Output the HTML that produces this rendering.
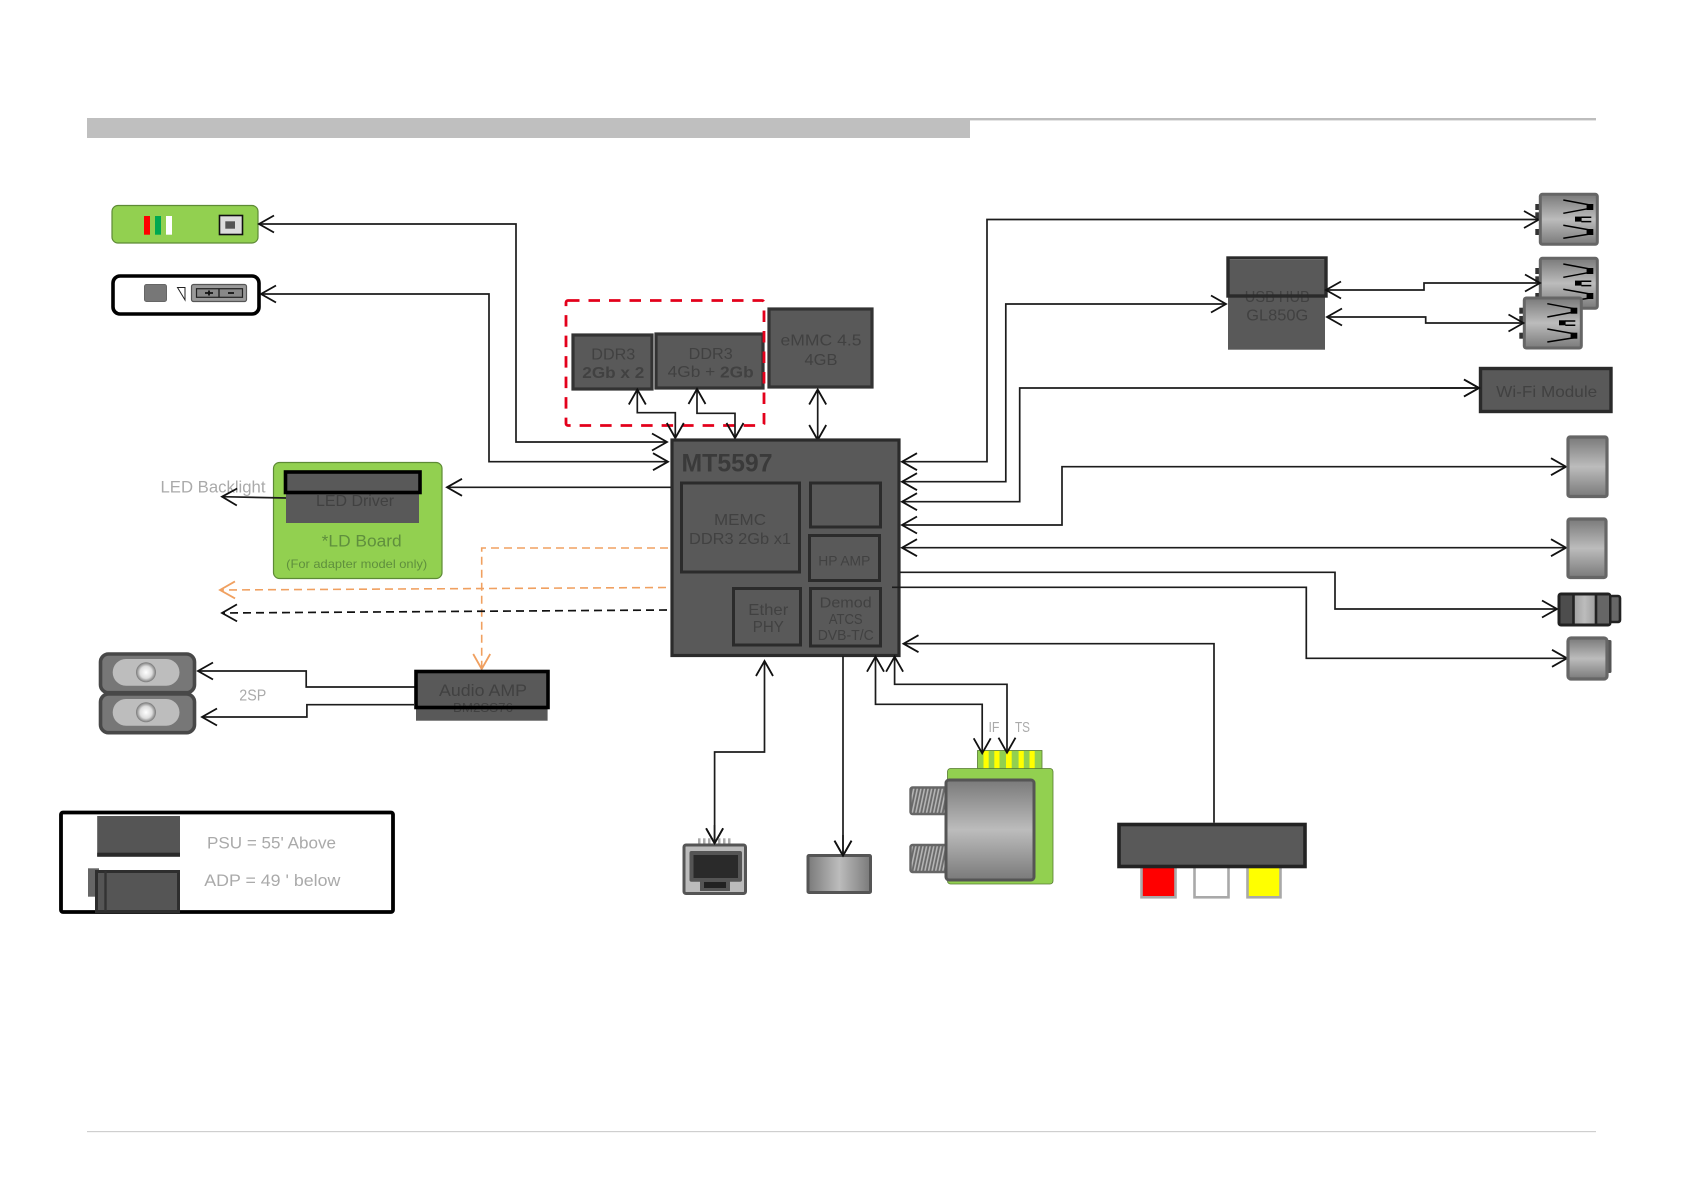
<!DOCTYPE html>
<html><head><meta charset="utf-8">
<style>
html,body{margin:0;padding:0;background:#fff}
svg{display:block}
text{font-family:"Liberation Sans",sans-serif;text-anchor:middle;dominant-baseline:central;transform:translateY(1px)}
.d{fill:#414141}
.g{fill:#aaa}
.l{fill:none;stroke:#1c1c1c;stroke-width:1.7}
</style></head><body>
<svg width="1683" height="1191" viewBox="0 0 1683 1191" xmlns="http://www.w3.org/2000/svg">
<defs>
<marker id="a" markerUnits="userSpaceOnUse" markerWidth="22" markerHeight="22" viewBox="-17 -11 22 22" refX="0" refY="0" orient="auto-start-reverse"><path d="M-15,-8.5 L0,0 L-15,8.5" fill="none" stroke="#111" stroke-width="1.8"/></marker>
<marker id="o" markerUnits="userSpaceOnUse" markerWidth="22" markerHeight="22" viewBox="-17 -11 22 22" refX="0" refY="0" orient="auto"><path d="M-15,-8.5 L0,0 L-15,8.5" fill="none" stroke="#f0a060" stroke-width="1.8"/></marker>
<linearGradient id="v" x1="0" y1="0" x2="0" y2="1"><stop offset="0" stop-color="#7a7a7a"/><stop offset=".5" stop-color="#bcbcbc"/><stop offset="1" stop-color="#7a7a7a"/></linearGradient>
<linearGradient id="h" x1="0" y1="0" x2="1" y2="0"><stop offset="0" stop-color="#7a7a7a"/><stop offset=".5" stop-color="#bcbcbc"/><stop offset="1" stop-color="#7a7a7a"/></linearGradient>
<radialGradient id="r"><stop offset="0" stop-color="#fff"/><stop offset=".6" stop-color="#ddd"/><stop offset="1" stop-color="#777"/></radialGradient>
<pattern id="hatch" width="3.5" height="6" patternUnits="userSpaceOnUse" patternTransform="rotate(12)"><rect width="3.5" height="6" fill="#6a6a6a"/><rect width="1.6" height="6" fill="#b5b5b5"/></pattern>
<g id="usb">
<rect x="-5" y="9.7" width="6" height="6" fill="#333"/><rect x="-5" y="18" width="6" height="6" fill="#333"/><rect x="-5" y="34.7" width="6" height="6" fill="#333"/>
<rect x="0" y="0" width="57" height="50" rx="2" fill="url(#v)" stroke="#666" stroke-width="3"/>
<g stroke="#000" stroke-width="1.5" fill="none"><path d="M23,5.7 L49.7,10.7M23,19 L49.7,14M23,31 L49.7,35.7M23,44 L49.7,39.7M41,23H51M41,27.3H51"/></g>
<rect x="46.3" y="9.7" width="6.7" height="6" fill="#000"/><rect x="34.7" y="22.3" width="6.6" height="5" fill="#000"/><rect x="46.3" y="34.7" width="6.7" height="6" fill="#000"/>
</g>
</defs>
<rect width="1683" height="1191" fill="#fff"/>
<!-- header/footer -->
<rect x="87" y="118" width="883" height="20" fill="#bfbfbf"/>
<rect x="970" y="118" width="626" height="2.4" fill="#bdbdbd"/>
<rect x="87" y="1131" width="1509" height="1.2" fill="#cfcfcf"/>

<!-- LED panel -->
<rect x="112" y="205.5" width="146" height="37.5" rx="6" fill="#92d050" stroke="#5d8a35" stroke-width="1.2"/>
<rect x="144" y="216" width="6" height="18.7" fill="#f00"/><rect x="155" y="216" width="6" height="18.7" fill="#00a850"/><rect x="166" y="216" width="6" height="18.7" fill="#fff"/>
<rect x="219.5" y="215.5" width="23" height="19" fill="#ddd" stroke="#111" stroke-width="1.6"/><rect x="225.3" y="221.3" width="9.7" height="7.4" fill="#555"/>
<!-- key panel -->
<rect x="113" y="276" width="146" height="38" rx="7" fill="#fff" stroke="#000" stroke-width="3.6"/>
<rect x="144.5" y="284.5" width="22" height="17" rx="2" fill="#777" stroke="#666"/>
<path d="M177.5,287.5H185V300Z" fill="#fff" stroke="#222" stroke-width="1"/>
<rect x="191.5" y="284.5" width="55" height="17" rx="2" fill="#9a9a9a" stroke="#555" stroke-width="1.2"/>
<rect x="196.5" y="288.7" width="46" height="8.6" fill="#888" stroke="#222" stroke-width="1.2"/>
<path d="M219,288.7V297.3" stroke="#222" stroke-width="1.4"/>
<path d="M205,293H213M209,290.5V295.5M228,293H234" stroke="#111" stroke-width="1.8"/>

<!-- Left connectors -->
<path class="l" d="M667,442H516V224H259" marker-start="url(#a)" marker-end="url(#a)"/>
<path class="l" d="M668,461.7H489V294H261" marker-start="url(#a)" marker-end="url(#a)"/>
<path class="l" d="M671,487.3H447" marker-end="url(#a)"/>

<!-- LD board -->
<rect x="273.5" y="462.5" width="168.5" height="116" rx="6" fill="#92d050" stroke="#5d8a35" stroke-width="1.2"/>
<rect x="286" y="473" width="133" height="50" fill="#595959"/>
<rect x="285.5" y="472" width="134.5" height="20.5" fill="#595959" stroke="#000" stroke-width="3.6"/>
<text class="d" x="355" y="500.7" font-size="16" textLength="78" lengthAdjust="spacingAndGlyphs">LED Driver</text>
<text x="361.7" y="540" font-size="17" fill="#5f8f3d" textLength="80" lengthAdjust="spacingAndGlyphs">*LD Board</text>
<text x="356.7" y="563" font-size="12" fill="#5f8f3d" textLength="141" lengthAdjust="spacingAndGlyphs">(For adapter model only)</text>
<text class="g" x="213" y="486" font-size="17" textLength="105" lengthAdjust="spacingAndGlyphs">LED Backlight</text>
<path class="l" d="M286,498L222,496.7" marker-end="url(#a)"/>

<!-- dashed -->
<path d="M668,548H481.7V669" fill="none" stroke="#f0a060" stroke-width="1.6" stroke-dasharray="8 5" marker-end="url(#o)"/>
<path d="M666,587.5L220,590" fill="none" stroke="#f0a060" stroke-width="1.6" stroke-dasharray="8 5" marker-end="url(#o)"/>
<path d="M667,610L222,613" fill="none" stroke="#111" stroke-width="1.7" stroke-dasharray="8 5" marker-end="url(#a)"/>

<!-- Speakers -->
<g>
<rect x="100.5" y="654" width="94" height="38.7" rx="8" fill="#777" stroke="#484848" stroke-width="3.6"/>
<rect x="112.7" y="659" width="66.8" height="26.7" rx="13.3" fill="#bdbdbd"/>
<circle cx="146" cy="672.3" r="10" fill="url(#r)"/>
<rect x="100.5" y="694" width="94" height="38.7" rx="8" fill="#777" stroke="#484848" stroke-width="3.6"/>
<rect x="112.7" y="699" width="66.8" height="26.7" rx="13.3" fill="#bdbdbd"/>
<circle cx="146" cy="712.3" r="10" fill="url(#r)"/>
</g>
<path class="l" d="M415,687H306.2V671H198" marker-end="url(#a)"/>
<path class="l" d="M414,704.7H306.9V717H202" marker-end="url(#a)"/>
<text class="g" x="252.8" y="695" font-size="16" textLength="27" lengthAdjust="spacingAndGlyphs">2SP</text>
<!-- Audio AMP -->
<rect x="416" y="671" width="131.6" height="49.7" fill="#595959"/>
<text class="d" x="483" y="706.5" font-size="13" textLength="60" lengthAdjust="spacingAndGlyphs">BM2SS76</text>
<rect x="416" y="671.5" width="132" height="36" fill="none" stroke="#000" stroke-width="3.6"/>
<text class="d" x="483" y="689.5" font-size="17" textLength="88" lengthAdjust="spacingAndGlyphs">Audio AMP</text>

<!-- Legend -->
<rect x="61" y="812.5" width="332" height="99.5" rx="2" fill="#fff" stroke="#000" stroke-width="3.8"/>
<rect x="97.2" y="816" width="82.8" height="40.7" fill="#555"/><rect x="97.2" y="852.7" width="82.8" height="4" fill="#2a2a2a"/>
<rect x="88" y="868.3" width="11" height="28.4" fill="#666"/>
<rect x="96.5" y="871.5" width="82" height="40" fill="#555" stroke="#2e2e2e" stroke-width="3"/>
<path d="M105.5,871V911" stroke="#333" stroke-width="2.4"/>
<text class="g" x="271.5" y="842" font-size="17" textLength="129" lengthAdjust="spacingAndGlyphs">PSU = 55' Above</text>
<text class="g" x="272.3" y="879.5" font-size="17" textLength="136" lengthAdjust="spacingAndGlyphs">ADP = 49 ' below</text>

<!-- DDR / eMMC -->
<rect x="573" y="335" width="79" height="54" fill="#595959" stroke="#333" stroke-width="3.2"/>
<text class="d" x="613.3" y="354" font-size="16" textLength="44" lengthAdjust="spacingAndGlyphs">DDR3</text>
<text class="d" x="613.3" y="372.7" font-size="16" font-weight="bold" textLength="62" lengthAdjust="spacingAndGlyphs">2Gb x 2</text>
<rect x="656" y="334" width="107" height="54" fill="#595959" stroke="#333" stroke-width="3.2"/>
<text class="d" x="710.7" y="353.3" font-size="16" textLength="44" lengthAdjust="spacingAndGlyphs">DDR3</text>
<text class="d" x="710.7" y="371.7" font-size="16" textLength="86" lengthAdjust="spacingAndGlyphs">4Gb + <tspan font-weight="bold">2Gb</tspan></text>
<rect x="769" y="309" width="103" height="78" fill="#595959" stroke="#333" stroke-width="3.2"/>
<text class="d" x="821" y="340" font-size="16" textLength="81" lengthAdjust="spacingAndGlyphs">eMMC 4.5</text>
<text class="d" x="821" y="359.3" font-size="16" textLength="33" lengthAdjust="spacingAndGlyphs">4GB</text>
<rect x="566" y="300.5" width="198" height="125" rx="2" fill="none" stroke="#e3001b" stroke-width="2.8" stroke-dasharray="11.5 9"/>
<path class="l" d="M637.3,389.5V412.7H675.3V438" marker-start="url(#a)" marker-end="url(#a)"/>
<path class="l" d="M697,389V413.3H735V438" marker-start="url(#a)" marker-end="url(#a)"/>
<path class="l" d="M817.7,389.5V440" marker-start="url(#a)" marker-end="url(#a)"/>

<!-- Chip -->
<rect x="672" y="440" width="227" height="215.5" fill="#595959" stroke="#2b2b2b" stroke-width="3.2"/>
<text x="727" y="462.5" font-size="25" font-weight="bold" fill="#3a3a3a" textLength="91" lengthAdjust="spacingAndGlyphs">MT5597</text>
<g fill="#595959" stroke="#2b2b2b" stroke-width="3">
<rect x="681.5" y="483" width="118" height="89"/>
<rect x="810.5" y="483" width="70" height="44"/>
<rect x="809.5" y="535.5" width="70" height="45"/>
<rect x="733.5" y="588.5" width="67" height="56.5"/>
<rect x="810.5" y="588.5" width="70" height="57.5"/>
</g>
<text class="d" x="740" y="519.3" font-size="16" textLength="52" lengthAdjust="spacingAndGlyphs">MEMC</text>
<text class="d" x="740" y="538.3" font-size="16" textLength="102" lengthAdjust="spacingAndGlyphs">DDR3 2Gb x1</text>
<text class="d" x="844.3" y="559.3" font-size="14" textLength="52" lengthAdjust="spacingAndGlyphs">HP AMP</text>
<text class="d" x="768.3" y="609.3" font-size="16" textLength="40" lengthAdjust="spacingAndGlyphs">Ether</text>
<text class="d" x="768.3" y="626.7" font-size="16" textLength="31" lengthAdjust="spacingAndGlyphs">PHY</text>
<text class="d" x="845.7" y="602.7" font-size="14.5" textLength="52" lengthAdjust="spacingAndGlyphs">Demod</text>
<text class="d" x="845.7" y="619" font-size="14.5" textLength="34" lengthAdjust="spacingAndGlyphs">ATCS</text>
<text class="d" x="845.7" y="635" font-size="14.5" textLength="56" lengthAdjust="spacingAndGlyphs">DVB-T/C</text>

<!-- Right connectors -->
<path class="l" d="M902,461.7H987V219.5H1539" marker-start="url(#a)" marker-end="url(#a)"/>
<path class="l" d="M902,481.7H1005.8V304H1226" marker-start="url(#a)" marker-end="url(#a)"/>
<path class="l" d="M902,501.7H1019.7V388H1479" marker-start="url(#a)" marker-end="url(#a)"/>
<path class="l" d="M902,525H1062V466.7H1566" marker-start="url(#a)" marker-end="url(#a)"/>
<path class="l" d="M902,547.7H1566" marker-start="url(#a)" marker-end="url(#a)"/>
<path class="l" d="M900,572.3H1335V609H1557" marker-end="url(#a)"/>
<path class="l" d="M892,587.3H1306.3V658.3H1567" marker-end="url(#a)"/>
<path class="l" d="M1214,822.7V643.7H903.5" marker-end="url(#a)"/>

<!-- USB HUB -->
<rect x="1228" y="260" width="97" height="89.7" fill="#595959"/>
<text class="d" x="1277.3" y="296.7" font-size="16" textLength="65" lengthAdjust="spacingAndGlyphs">USB HUB</text>
<text class="d" x="1277.3" y="315" font-size="16" textLength="62" lengthAdjust="spacingAndGlyphs">GL850G</text>
<rect x="1228" y="258" width="98" height="38" fill="none" stroke="#2a2a2a" stroke-width="3.4"/>
<use href="#usb" x="1540.3" y="194.3"/>
<use href="#usb" x="1540.3" y="258.3"/>
<use href="#usb" x="1524.3" y="298"/>
<path class="l" d="M1326,290H1424V283H1540" marker-start="url(#a)" marker-end="url(#a)"/>
<path class="l" d="M1327,317H1425.7V323H1523.5" marker-start="url(#a)" marker-end="url(#a)"/>

<!-- WiFi -->
<rect x="1480.5" y="368.5" width="130.5" height="43" fill="#595959" stroke="#2a2a2a" stroke-width="3.4"/>
<text class="d" x="1546.7" y="391.7" font-size="16" textLength="101" lengthAdjust="spacingAndGlyphs">Wi-Fi Module</text>
<path class="l" d="M1430,388H1479" marker-end="url(#a)"/>

<!-- Jacks -->
<rect x="1568" y="437" width="39" height="59.5" rx="2" fill="url(#v)" stroke="#666" stroke-width="3.2"/>
<rect x="1568" y="519" width="38" height="58.5" rx="2" fill="url(#v)" stroke="#666" stroke-width="3.2"/>
<rect x="1610" y="596" width="10" height="26" rx="2" fill="#666" stroke="#222" stroke-width="2.6"/>
<rect x="1559" y="594" width="51" height="31" rx="2" fill="url(#h)" stroke="#222" stroke-width="3"/>
<rect x="1560.5" y="595.5" width="13" height="28" fill="#4d4d4d"/>
<rect x="1596" y="595.5" width="13" height="28" fill="#666"/>
<path d="M1573.5,594V625M1596,594V625" stroke="#222" stroke-width="2.6"/>
<rect x="1606" y="640" width="5.5" height="33" rx="1.5" fill="#555"/>
<rect x="1568" y="638" width="39" height="41" rx="3" fill="url(#v)" stroke="#666" stroke-width="3.2"/>

<!-- Bottom connectors -->
<path class="l" d="M764.5,661V752H714.6V843.3" marker-start="url(#a)" marker-end="url(#a)"/>
<path class="l" d="M843,656V855.7" marker-end="url(#a)"/>
<rect x="977.5" y="750.5" width="64.5" height="18.2" fill="#92d050" stroke="#567a30" stroke-width=".8"/>
<g fill="#ff0"><rect x="983.5" y="751" width="5.2" height="17.7"/><rect x="994.3" y="751" width="5.2" height="17.7"/><rect x="1006" y="751" width="5.7" height="17.7"/><rect x="1018.6" y="751" width="5.2" height="17.7"/><rect x="1029.5" y="751" width="5.2" height="17.7"/></g>
<rect x="947.5" y="768.5" width="105.5" height="115.5" rx="3" fill="#92d050" stroke="#567a30" stroke-width=".8"/>
<rect x="910.5" y="787.5" width="36" height="26.5" rx="2" fill="url(#hatch)" stroke="#666" stroke-width="2.4"/>
<rect x="910.5" y="845" width="36" height="27" rx="2" fill="url(#hatch)" stroke="#666" stroke-width="2.4"/>
<rect x="946" y="780" width="88" height="100" rx="3" fill="url(#v)" stroke="#555" stroke-width="3"/>
<path class="l" d="M875.5,656.7V704.3H982.2V753.3" marker-start="url(#a)" marker-end="url(#a)"/>
<path class="l" d="M894.6,656.7V684.3H1007V752.7" marker-start="url(#a)" marker-end="url(#a)"/>
<text class="g" x="994" y="726.5" font-size="15" textLength="11" lengthAdjust="spacingAndGlyphs">IF</text>
<text class="g" x="1022.5" y="726.5" font-size="15" textLength="15" lengthAdjust="spacingAndGlyphs">TS</text>

<!-- RJ45 -->
<g fill="#aaa"><rect x="698" y="838.3" width="2.5" height="6"/><rect x="703" y="838.3" width="2.5" height="6"/><rect x="708" y="838.3" width="2.5" height="6"/><rect x="713" y="838.3" width="2.5" height="6"/><rect x="718" y="838.3" width="2.5" height="6"/><rect x="723" y="838.3" width="2.5" height="6"/><rect x="728" y="838.3" width="2.5" height="6"/></g>
<rect x="684" y="845" width="61.5" height="48.5" rx="2" fill="#bbb" stroke="#555" stroke-width="3"/>
<rect x="689.5" y="851" width="52.5" height="30.7" rx="2" fill="#555"/>
<rect x="693.5" y="855" width="44.5" height="23" fill="#2a2a2a"/>
<rect x="700" y="880" width="30" height="11" fill="#555"/>
<rect x="704" y="882" width="22" height="6" fill="#222"/>
<path class="l" d="M714.6,825V843.3" marker-end="url(#a)"/>

<rect x="808" y="855.5" width="62.5" height="37" rx="1" fill="url(#h)" stroke="#555" stroke-width="3"/>
<path class="l" d="M843,835V855.7" marker-end="url(#a)"/>

<!-- Composite -->
<g fill="none" stroke="#a9a9a9" stroke-width="2.6">
<rect x="1141.5" y="864" width="34" height="33.3" fill="#f00"/>
<rect x="1194.5" y="864" width="34" height="33.3" fill="#fff"/>
<rect x="1247.5" y="864" width="33" height="33.3" fill="#ff0"/>
</g>
<rect x="1119" y="824.5" width="186" height="42" fill="#595959" stroke="#232323" stroke-width="3.6"/>
</svg>
</body></html>
